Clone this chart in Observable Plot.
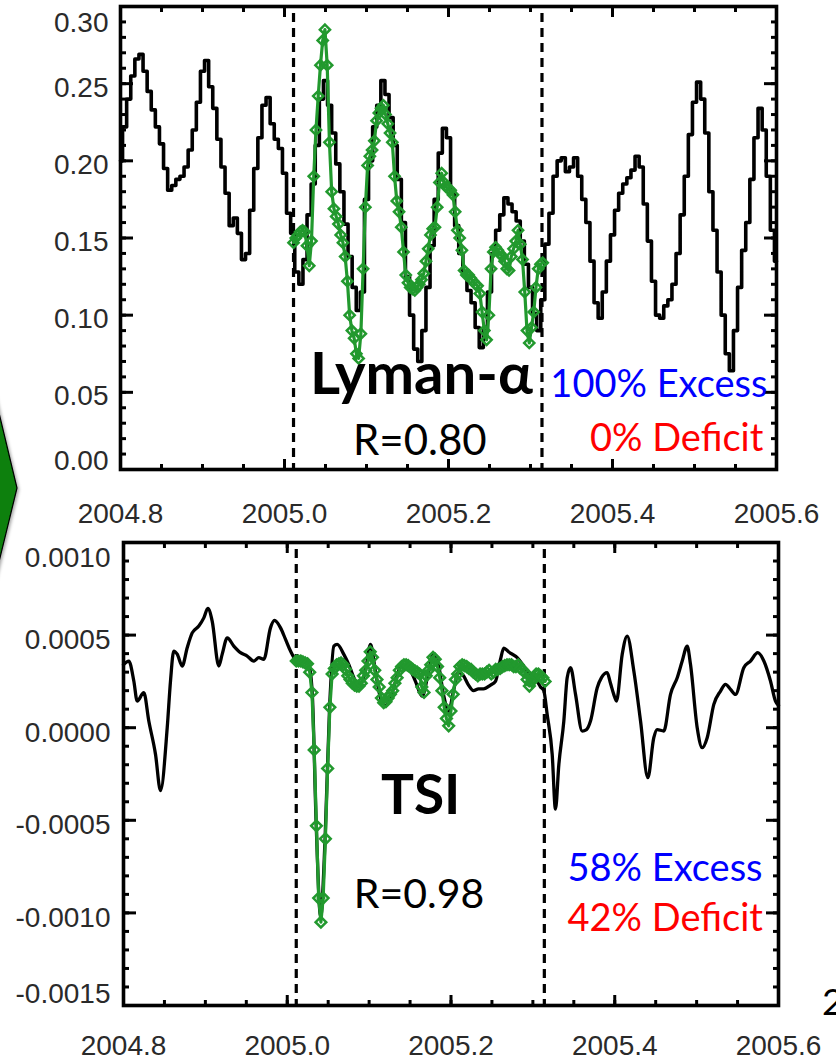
<!DOCTYPE html>
<html>
<head>
<meta charset="utf-8">
<script src="https://cdn.jsdelivr.net/npm/d3@7"></script>
<script src="https://cdn.jsdelivr.net/npm/@observablehq/plot@0.6"></script>
<style>
  html, body { margin: 0; padding: 0; background: #fff; }
  #page { position: relative; width: 836px; height: 1061px; overflow: hidden; background: #fff; }
  #page svg { display: block; }
  #arrow { position: absolute; left: 0; top: 0; }
  #pagenum { position: absolute; left: 822px; top: 982px; font-family: Lato, sans-serif; font-size: 37px; line-height: 1; color: #000; }
</style>
</head>
<body>
<div id="page">
  <div id="lyman"></div>
  <div id="tsi"></div>
  <svg id="arrow" width="60" height="620">
    <defs>
      <filter id="shadow" x="-50%" y="-20%" width="200%" height="140%">
        <feDropShadow dx="1.5" dy="1.5" stdDeviation="1.5" flood-color="#000" flood-opacity="0.35"/>
      </filter>
    </defs>
    <polygon points="-12,367 17,488 -12,607" fill="#0a800a" stroke="#000" stroke-width="1.2" filter="url(#shadow)"/>
  </svg>
  <div id="pagenum">2</div>
</div>
<script>
// ---- Lyman-alpha: observed series, sampled every 0.005 yr from 2004.800 ----
const lymanStart = 2004.8;
const lymanStep = 0.005;
const lymanObserved = [
  0.200, 0.222, 0.240, 0.255, 0.266, 0.269, 0.258, 0.245, 0.233, 0.222,
  0.211, 0.195, 0.181, 0.184, 0.188, 0.190, 0.196, 0.207, 0.220, 0.238,
  0.258, 0.265, 0.248, 0.234, 0.214, 0.196, 0.179, 0.158, 0.163, 0.153,
  0.136, 0.140, 0.168, 0.195, 0.215, 0.236, 0.241, 0.224, 0.214, 0.208,
  0.192, 0.166, 0.153, 0.128, 0.120, 0.136, 0.165, 0.185, 0.210, 0.240,
  0.252, 0.236, 0.218, 0.198, 0.180, 0.159, 0.138, 0.118, 0.103, 0.115,
  0.175, 0.200, 0.222, 0.236, 0.252, 0.243, 0.228, 0.210, 0.188, 0.160,
  0.125, 0.100, 0.078, 0.070, 0.090, 0.118, 0.145, 0.175, 0.205, 0.221,
  0.215, 0.180, 0.158, 0.140, 0.126, 0.116, 0.108, 0.092, 0.079, 0.090,
  0.115, 0.140, 0.155, 0.165, 0.176, 0.172, 0.167, 0.161, 0.148, 0.133,
  0.118, 0.101, 0.090, 0.110, 0.146, 0.166, 0.190, 0.200, 0.202, 0.193,
  0.196, 0.202, 0.190, 0.175, 0.160, 0.135, 0.108, 0.098, 0.115, 0.135,
  0.152, 0.168, 0.179, 0.185, 0.189, 0.194, 0.203, 0.196, 0.172, 0.148,
  0.122, 0.100, 0.098, 0.106, 0.110, 0.120, 0.140, 0.165, 0.190, 0.217,
  0.238, 0.251, 0.240, 0.218, 0.180, 0.155, 0.128, 0.100, 0.075, 0.064,
  0.090, 0.118, 0.142, 0.160, 0.188, 0.215, 0.234, 0.220, 0.190, 0.155,
  0.135
];

// ---- Daily reconstruction inside the fitted window (both panels) ----
const fitStart = 2005.011;
const fitStep = 1 / 365.25;
const lymanModel = [
  0.147, 0.150, 0.152, 0.154, 0.155, 0.154, 0.145, 0.132, 0.148, 0.190,
  0.220, 0.242, 0.262, 0.278, 0.285, 0.262, 0.212, 0.180, 0.169, 0.164,
  0.159, 0.152, 0.147, 0.138, 0.122, 0.100, 0.090, 0.085, 0.075, 0.072,
  0.088, 0.130, 0.170, 0.197, 0.203, 0.207, 0.213, 0.226, 0.231, 0.234,
  0.236, 0.230, 0.224, 0.218, 0.212, 0.190, 0.174, 0.167, 0.157, 0.141,
  0.126, 0.121, 0.118, 0.117, 0.116, 0.118, 0.120, 0.123, 0.127, 0.135,
  0.143, 0.152, 0.156, 0.157, 0.170, 0.186, 0.192, 0.186, 0.183, 0.182,
  0.181, 0.178, 0.167, 0.155, 0.150, 0.142, 0.129, 0.126, 0.126, 0.124,
  0.122, 0.120, 0.119, 0.114, 0.102, 0.090, 0.084, 0.100, 0.130, 0.141,
  0.144, 0.142, 0.140, 0.138, 0.135, 0.130, 0.129, 0.138, 0.143, 0.148,
  0.155, 0.146, 0.136, 0.115, 0.090, 0.082, 0.092, 0.102, 0.118, 0.130,
  0.133, 0.134
];

// ---- TSI: observed series ----
const tsiYears = [
  2004.8000, 2004.8065, 2004.8126, 2004.8167, 2004.8248, 2004.8309, 2004.8391, 2004.8452, 2004.8534, 2004.8574,
  2004.8614, 2004.8656, 2004.8717, 2004.8778, 2004.8839, 2004.8920, 2004.8981, 2004.9030, 2004.9083, 2004.9164,
  2004.9205, 2004.9267, 2004.9347, 2004.9429, 2004.9511, 2004.9591, 2004.9653, 2004.9714, 2004.9795, 2004.9844,
  2004.9918, 2004.9979, 2005.0040, 2005.0101, 2005.0162, 2005.0223, 2005.0263, 2005.0305, 2005.0354, 2005.0408,
  2005.0462, 2005.0517, 2005.0569, 2005.0610, 2005.0691, 2005.0752, 2005.0813, 2005.0874, 2005.0956, 2005.1017,
  2005.1078, 2005.1139, 2005.1200, 2005.1261, 2005.1322, 2005.1383, 2005.1444, 2005.1505, 2005.1566, 2005.1648,
  2005.1725, 2005.1786, 2005.1847, 2005.1908, 2005.1973, 2005.2031, 2005.2092, 2005.2153, 2005.2214, 2005.2275,
  2005.2336, 2005.2397, 2005.2483, 2005.2543, 2005.2605, 2005.2645, 2005.2702, 2005.2809, 2005.2910, 2005.2971,
  2005.3053, 2005.3093, 2005.3133, 2005.3175, 2005.3236, 2005.3276, 2005.3317, 2005.3378, 2005.3419, 2005.3460,
  2005.3521, 2005.3602, 2005.3655, 2005.3704, 2005.3786, 2005.3838, 2005.3908, 2005.3948, 2005.3988, 2005.4021,
  2005.4091, 2005.4152, 2005.4233, 2005.4315, 2005.4404, 2005.4477, 2005.4518, 2005.4599, 2005.4681, 2005.4763,
  2005.4824, 2005.4885, 2005.4925, 2005.5007, 2005.5068, 2005.5129, 2005.5210, 2005.5292, 2005.5353, 2005.5414,
  2005.5475, 2005.5576, 2005.5658, 2005.5747, 2005.5821, 2005.5902, 2005.5963, 2005.6000
];
const tsiObserved = [
  0.000340, 0.000360, 0.000252, 0.000144, 0.000189, 0.000036, -0.000144, -0.000340, 0.000000, 0.000252,
  0.000414, 0.000397, 0.000333, 0.000432, 0.000512, 0.000549, 0.000593, 0.000644, 0.000576, 0.000333,
  0.000396, 0.000485, 0.000441, 0.000405, 0.000387, 0.000360, 0.000378, 0.000369, 0.000539, 0.000579,
  0.000539, 0.000477, 0.000414, 0.000369, 0.000360, 0.000350, 0.000340, 0.000190, -0.000530, -0.001020,
  -0.000600, 0.000110, 0.000440, 0.000450, 0.000396, 0.000340, 0.000270, 0.000220, 0.000310, 0.000450,
  0.000300, 0.000160, 0.000120, 0.000160, 0.000250, 0.000330, 0.000340, 0.000310, 0.000250, 0.000170,
  0.000300, 0.000400, 0.000340, 0.000180, 0.000090, 0.000200, 0.000300, 0.000280, 0.000230, 0.000200,
  0.000210, 0.000210, 0.000230, 0.000250, 0.000370, 0.000430, 0.000410, 0.000378, 0.000320, 0.000290,
  0.000250, 0.000220, 0.000200, 0.000070, -0.000144, -0.000440, -0.000200, 0.000036, 0.000270, 0.000324,
  0.000180, -0.000018, -0.000010, 0.000036, 0.000216, 0.000270, 0.000297, 0.000240, 0.000180, 0.000144,
  0.000396, 0.000495, 0.000306, 0.000036, -0.000270, -0.000054, -0.000010, -0.000018, 0.000180, 0.000270,
  0.000360, 0.000441, 0.000342, 0.000000, -0.000108, -0.000054, 0.000126, 0.000198, 0.000234, 0.000207,
  0.000180, 0.000324, 0.000360, 0.000405, 0.000360, 0.000252, 0.000144, 0.000120
];
const tsiModel = [
  0.000360, 0.000360, 0.000360, 0.000355, 0.000350, 0.000345, 0.000300, 0.000190, -0.000120, -0.000530,
  -0.000920, -0.001050, -0.000920, -0.000600, -0.000220, 0.000110, 0.000290, 0.000320, 0.000340, 0.000345,
  0.000350, 0.000340, 0.000315, 0.000280, 0.000260, 0.000240, 0.000230, 0.000225, 0.000225, 0.000240,
  0.000280, 0.000310, 0.000360, 0.000410, 0.000380, 0.000310, 0.000260, 0.000220, 0.000160, 0.000135,
  0.000140, 0.000160, 0.000180, 0.000200, 0.000240, 0.000270, 0.000310, 0.000330, 0.000340, 0.000340,
  0.000335, 0.000325, 0.000315, 0.000306, 0.000300, 0.000290, 0.000220, 0.000190, 0.000280, 0.000310,
  0.000340, 0.000380, 0.000370, 0.000330, 0.000270, 0.000200, 0.000110, 0.000050, 0.000010, 0.000090,
  0.000180, 0.000260, 0.000290, 0.000330, 0.000340, 0.000335, 0.000330, 0.000320, 0.000315, 0.000300,
  0.000290, 0.000280, 0.000290, 0.000290, 0.000290, 0.000300, 0.000310, 0.000290, 0.000300, 0.000315,
  0.000315, 0.000320, 0.000330, 0.000335, 0.000340, 0.000340, 0.000340, 0.000330, 0.000330, 0.000340,
  0.000320, 0.000310, 0.000300, 0.000260, 0.000225, 0.000250, 0.000270, 0.000290, 0.000290, 0.000280,
  0.000270, 0.000250
];

// ---- Window boundaries and axis tick labels ----
const windowYears = [2005.011, 2005.314];
const yearTicks = [2004.8, 2005.0, 2005.2, 2005.4, 2005.6];
const lymanTicks = [0.00, 0.05, 0.10, 0.15, 0.20, 0.25, 0.30];
const tsiTicks = [-0.0015, -0.0010, -0.0005, 0.0000, 0.0005, 0.0010];

// ---- Tables for the marks ----
const lymanObsData = lymanObserved.map((v, i) => ({year: lymanStart + i * lymanStep, value: v}));
const lymanModelData = lymanModel.map((v, i) => ({year: fitStart + i * fitStep, value: v}));
const tsiObsData = tsiObserved.map((v, i) => ({year: tsiYears[i], value: v}));
const tsiModelData = tsiModel.map((v, i) => ({year: fitStart + i * fitStep, value: v}));

const GREEN = "#22992e";
const axisFontFamily = "'Liberation Sans', Arimo, Arial, Helvetica, sans-serif";
const noteFont = "Lato, Carlito, Calibri, sans-serif";
const yearMinor = d3.range(0, 17).map(i => +(2004.8 + i * 0.05).toFixed(2));

// inward-pointing ticks on all four sides of a boxed panel
function boxTicks(yMinor, yMajor) {
  const s = {stroke: "black", strokeWidth: 3, tickFormat: () => "", label: null};
  return [
    Plot.axisX(yearMinor, {anchor: "bottom", tickSize: -5, ...s}),
    Plot.axisX(yearTicks, {anchor: "bottom", tickSize: -10, ...s}),
    Plot.axisX(yearMinor, {anchor: "top", tickSize: -5, ...s}),
    Plot.axisX(yearTicks, {anchor: "top", tickSize: -10, ...s}),
    Plot.axisY(yMinor, {anchor: "left", tickSize: -6, ...s}),
    Plot.axisY(yMajor, {anchor: "left", tickSize: -13, ...s}),
    Plot.axisY(yMinor, {anchor: "right", tickSize: -6, ...s}),
    Plot.axisY(yMajor, {anchor: "right", tickSize: -13, ...s})
  ];
}

const labelStyle = {tickSize: 0, fill: "#2a2a2a", fontSize: 28, fontFamily: axisFontFamily, label: null};
const dashStyle = {stroke: "black", strokeWidth: 3.2, strokeDasharray: "9,6", strokeDashoffset: -7};

// ================= Lyman-alpha panel =================
const lymanMinor = d3.range(0, 31).map(i => +(i * 0.01).toFixed(2));
const lymanPlot = Plot.plot({
  width: 836,
  height: 530,
  marginLeft: 120,
  marginRight: 60,
  marginTop: 6,
  marginBottom: 61,
  style: {background: "white", overflow: "visible"},
  x: {domain: [2004.8, 2005.6]},
  y: {domain: [0, 0.30]},
  marks: [
    Plot.line(lymanObsData, {x: "year", y: "value", curve: "step", stroke: "black", strokeWidth: 3.6}),
    Plot.ruleX(windowYears, dashStyle),
    Plot.line(lymanModelData, {x: "year", y: "value", stroke: GREEN, strokeWidth: 3.2}),
    Plot.dot(lymanModelData, {x: "year", y: "value", symbol: "diamond2", r: 4.6, stroke: GREEN, strokeWidth: 2.5}),
    Plot.frame({stroke: "black", strokeWidth: 3.6}),
    ...boxTicks(lymanMinor, lymanTicks),
    Plot.axisX(yearTicks, {anchor: "bottom", tickPadding: 34, tickFormat: d3.format(".1f"), ...labelStyle}),
    Plot.axisY(lymanTicks.slice(1, -1), {anchor: "left", tickPadding: 12, dy: 4, tickFormat: d3.format(".2f"), ...labelStyle}),
    Plot.axisY([0.30], {anchor: "left", tickPadding: 12, dy: 17, tickFormat: d3.format(".2f"), ...labelStyle}),
    Plot.axisY([0.00], {anchor: "left", tickPadding: 12, dy: -8, tickFormat: d3.format(".2f"), ...labelStyle}),
    Plot.text(["Lyman-α"], {x: 2005.167, y: 0.0486, textAnchor: "middle", lineAnchor: "bottom", fontSize: 58, fontWeight: 700, fontFamily: noteFont, fill: "black"}),
    Plot.text(["R=0.80"], {x: 2005.165, y: 0.0091, textAnchor: "middle", lineAnchor: "bottom", fontSize: 42, fontFamily: noteFont, fill: "black"}),
    Plot.text(["100% Excess"], {x: 2005.589, y: 0.0467, textAnchor: "end", lineAnchor: "bottom", fontSize: 38, fontFamily: noteFont, fill: "#0000ff"}),
    Plot.text(["0% Deficit"], {x: 2005.584, y: 0.0123, textAnchor: "end", lineAnchor: "bottom", fontSize: 38, fontFamily: noteFont, fill: "#ff0000"})
  ]
});
document.getElementById("lyman").appendChild(lymanPlot);

// ================= TSI panel =================
const tsiMinor = d3.range(-15, 11).map(i => +(i * 0.0001).toFixed(4));
const tsiFormat = d => d3.format(".4f")(d).replace("−", "-");
const tsiPlot = Plot.plot({
  width: 836,
  height: 531,
  marginLeft: 123,
  marginRight: 58,
  marginTop: 12,
  marginBottom: 56,
  style: {background: "white", overflow: "visible"},
  x: {domain: [2004.8, 2005.6]},
  y: {domain: [-0.0015, 0.0010]},
  marks: [
    Plot.line(tsiObsData, {x: "year", y: "value", curve: "monotone-x", stroke: "black", strokeWidth: 3.3}),
    Plot.ruleX(windowYears, dashStyle),
    Plot.line(tsiModelData, {x: "year", y: "value", stroke: GREEN, strokeWidth: 3.2}),
    Plot.dot(tsiModelData, {x: "year", y: "value", symbol: "diamond2", r: 4.8, stroke: GREEN, strokeWidth: 2.5}),
    Plot.frame({stroke: "black", strokeWidth: 3.6}),
    ...boxTicks(tsiMinor, tsiTicks),
    Plot.axisX(yearTicks, {anchor: "bottom", tickPadding: 30, tickFormat: d3.format(".1f"), ...labelStyle}),
    Plot.axisY(tsiTicks.slice(1, -1), {anchor: "left", tickPadding: 13, dy: 5, tickFormat: tsiFormat, ...labelStyle}),
    Plot.axisY([0.0010], {anchor: "left", tickPadding: 13, dy: 16, tickFormat: tsiFormat, ...labelStyle}),
    Plot.axisY([-0.0015], {anchor: "left", tickPadding: 13, dy: -11, tickFormat: tsiFormat, ...labelStyle}),
    Plot.text(["TSI"], {x: 2005.163, y: -0.000465, textAnchor: "middle", lineAnchor: "bottom", fontSize: 55, fontWeight: 700, fontFamily: noteFont, fill: "black"}),
    Plot.text(["R=0.98"], {x: 2005.161, y: -0.000973, textAnchor: "middle", lineAnchor: "bottom", fontSize: 41, fontFamily: noteFont, fill: "black"}),
    Plot.text(["58% Excess"], {x: 2005.3423, y: -0.000827, textAnchor: "start", lineAnchor: "bottom", fontSize: 38, fontFamily: noteFont, fill: "#0000ff"}),
    Plot.text(["42% Deficit"], {x: 2005.3423, y: -0.001097, textAnchor: "start", lineAnchor: "bottom", fontSize: 38, fontFamily: noteFont, fill: "#ff0000"})
  ]
});
document.getElementById("tsi").appendChild(tsiPlot);
</script>
</body>
</html>
